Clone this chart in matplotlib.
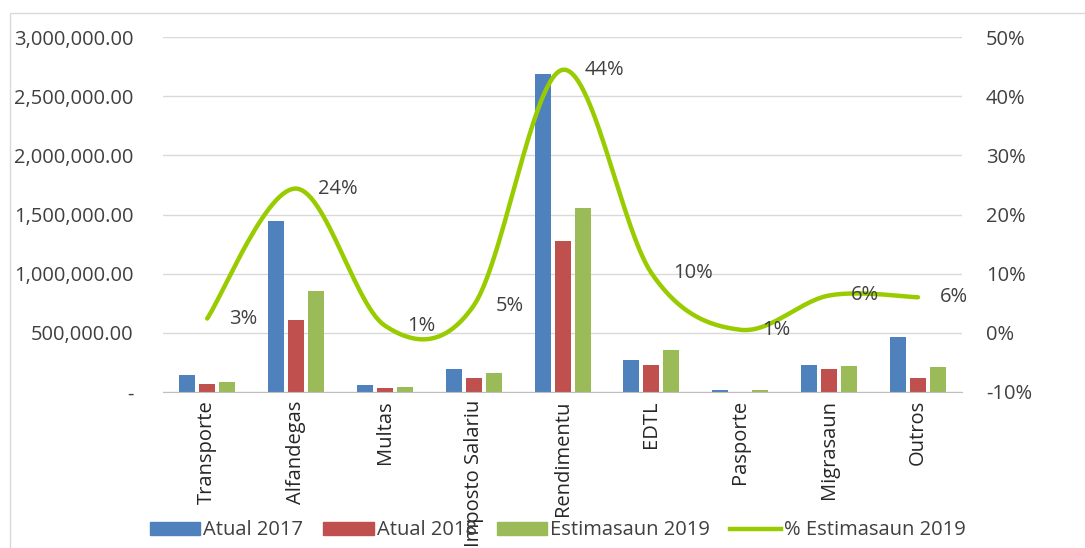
import numpy as np
import matplotlib.pyplot as plt
from matplotlib.patches import Rectangle
from matplotlib.lines import Line2D

plt.rcParams['font.family'] = ['Open Sans', 'DejaVu Sans']

categories = ["Transporte", "Alfandegas", "Multas", "Imposto Salariu", "Rendimentu",
              "EDTL", "Pasporte", "Migrasaun", "Outros"]
atual_2017 = [144000, 1445000, 59000, 195000, 2687000, 270000, 17000, 228000, 465000]
atual_2018 = [68000, 605000, 34000, 118000, 1276000, 228000, 0, 195000, 118000]
estim_2019 = [85000, 853000, 42000, 160000, 1555000, 355000, 17000, 220000, 211000]
pct_2019 = [2.4, 24.4, 1.2, 4.6, 44.5, 10.1, 0.5, 6.3, 6.0]
pct_labels = ["3%", "24%", "1%", "5%", "44%", "10%", "1%", "6%", "6%"]


def smooth(x, y, n=30, t=0.5):
    # Catmull-Rom style smoothing like Excel's smoothed line
    x = np.asarray(x, float)
    y = np.asarray(y, float)
    px = np.concatenate([[x[0]], x, [x[-1]]])
    py = np.concatenate([[y[0]], y, [y[-1]]])
    xs, ys = [], []
    s = np.linspace(0, 1, n)
    for i in range(1, len(px) - 2):
        p0, p1, p2, p3 = (np.array([px[j], py[j]]) for j in range(i - 1, i + 3))
        m1 = t * (p2 - p0)
        m2 = t * (p3 - p1)
        h00 = 2 * s**3 - 3 * s**2 + 1
        h10 = s**3 - 2 * s**2 + s
        h01 = -2 * s**3 + 3 * s**2
        h11 = s**3 - s**2
        pts = (np.outer(h00, p1) + np.outer(h10, m1) + np.outer(h01, p2) + np.outer(h11, m2))
        xs.extend(pts[:, 0])
        ys.extend(pts[:, 1])
    return np.array(xs), np.array(ys)


fs = 14.5
fig = plt.figure(figsize=(10.85, 5.48), dpi=100)
fig.patches.append(Rectangle((10 / 1085, -0.01), 1.1, 1 - 13 / 548 + 0.01, transform=fig.transFigure,
                             fill=False, edgecolor="#d9d9d9", linewidth=1))
ax = fig.add_axes([0.150, 0.285, 0.737, 0.647])

x = np.arange(len(categories))
w = 0.18
step = 0.225
ax.bar(x - step, atual_2017, w, color="#4f81bd", label="Atual 2017", zorder=2)
ax.bar(x, atual_2018, w, color="#c0504d", label="Atual 2018", zorder=2)
ax.bar(x + step, estim_2019, w, color="#9bbb59", label="Estimasaun 2019", zorder=2)

ax.set_xlim(-0.5, len(categories) - 0.5)
ax.set_ylim(0, 3000000)
ax.set_yticks(np.arange(0, 3000001, 500000))
ax.set_yticklabels(["-" if v == 0 else f"{v:,.2f}" for v in np.arange(0, 3000001, 500000)])
ax.yaxis.grid(True, color="#d9d9d9", linewidth=1)
ax.set_axisbelow(True)
for s in ["top", "right", "left"]:
    ax.spines[s].set_visible(False)
ax.spines["bottom"].set_color("#bfbfbf")
ax.tick_params(axis="y", length=0, labelsize=fs, labelcolor="#404040", pad=21)
ax.set_xticks(x)
ax.set_xticklabels(categories, rotation=90, fontsize=fs, color="#262626")
ax.tick_params(axis="x", length=0, pad=6)

ax2 = ax.twinx()
ax2.set_ylim(-10, 50)
ax2.set_yticks(np.arange(-10, 51, 10))
ax2.set_yticklabels([f"{v}%" for v in range(-10, 51, 10)])
ax2.tick_params(axis="y", length=0, labelsize=fs, labelcolor="#404040", pad=17)
for s in ["top", "right", "left", "bottom"]:
    ax2.spines[s].set_visible(False)
sx, sy = smooth(x, pct_2019)
ax2.plot(sx, sy, color="#99cc00", linewidth=3.2, solid_capstyle="round", zorder=3)
for xi, yi, lab in zip(x, pct_2019, pct_labels):
    ax2.annotate(lab, (xi, yi), xytext=(16, 0), textcoords="offset points",
                 ha="left", va="center", fontsize=fs, color="#404040")

handles = [Rectangle((0, 0), 1, 1, color="#4f81bd"), Rectangle((0, 0), 1, 1, color="#c0504d"),
           Rectangle((0, 0), 1, 1, color="#9bbb59"), Line2D([], [], color="#99cc00", linewidth=3.2)]
fig.legend(handles, ["Atual 2017", "Atual 2018", "Estimasaun 2019", "% Estimasaun 2019"],
           loc="center", bbox_to_anchor=(0.514, 0.032), ncol=4, frameon=False, fontsize=fs,
           labelcolor="#404040", handlelength=2.5, handleheight=0.67, handletextpad=0.15,
           columnspacing=1.0)

fig.savefig("out.png", dpi=100)
